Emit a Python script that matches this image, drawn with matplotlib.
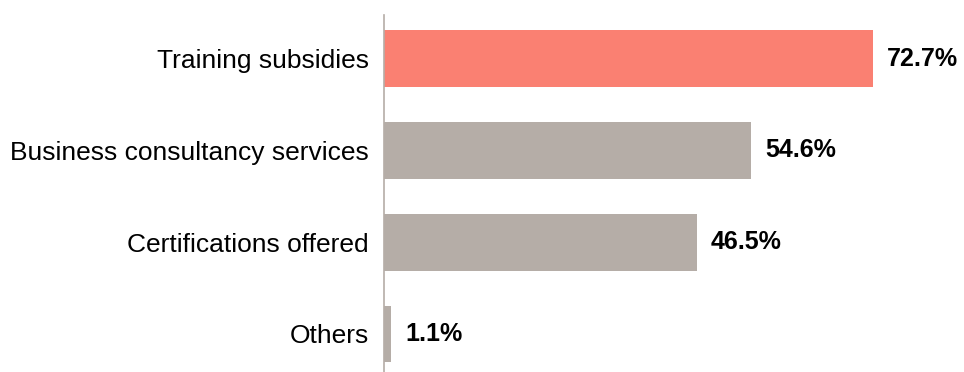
import matplotlib
matplotlib.use("Agg")
import matplotlib.pyplot as plt

categories = ["Training subsidies", "Business consultancy services", "Certifications offered", "Others"]
values = [72.7, 54.6, 46.5, 1.1]
labels = ["72.7%", "54.6%", "46.5%", "1.1%"]
colors = ["#FA8072", "#B5ADA7", "#B5ADA7", "#B5ADA7"]

plt.rcParams['font.family'] = ['Liberation Sans', 'DejaVu Sans']

W, H = 964, 372
fig = plt.figure(figsize=(W / 100, H / 100), dpi=100)
ax = fig.add_axes([384 / W, 0, 580 / W, 357 / H])

pos = list(range(len(categories)))
ax.barh(pos, values, height=0.62, color=colors)
ax.set_xlim(0, 580 / 6.73)
ax.set_ylim(3.414, -0.474)

for p, v, t in zip(pos, values, labels):
    ax.annotate(t, (v, p), xytext=(14, 0), textcoords="offset pixels",
                va="center", ha="left", fontsize=18, fontweight="bold", color="black")

ax.set_yticks(pos)
ax.set_yticklabels(categories, fontsize=19, color="black")
ax.tick_params(axis="y", length=0, pad=11)
ax.set_xticks([])
for s in ["top", "right", "bottom"]:
    ax.spines[s].set_visible(False)
ax.spines["left"].set_color("#B5ADA7")
ax.spines["left"].set_linewidth(1.2)

fig.savefig("out.png", dpi=100)
